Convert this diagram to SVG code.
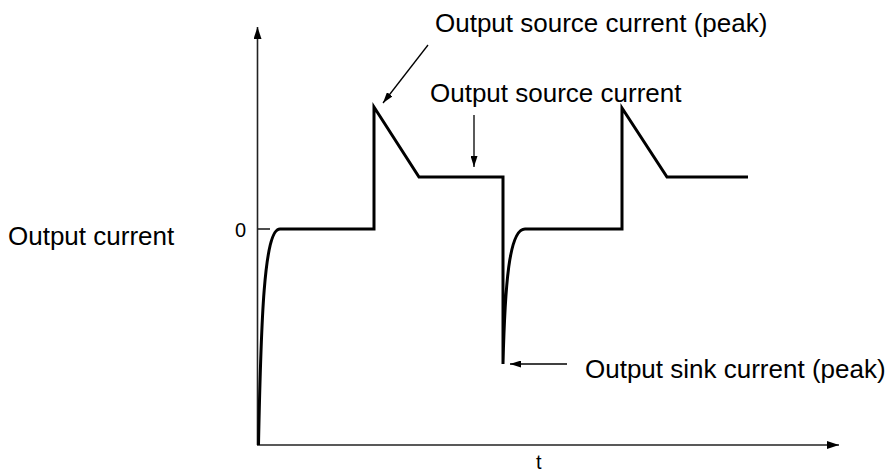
<svg xmlns="http://www.w3.org/2000/svg" width="892" height="472" viewBox="0 0 892 472">
<defs>
<style>
.lbl{font-family:"Liberation Sans",Arial,sans-serif;font-size:26px;fill:#000}
.sm{font-family:"Liberation Sans",Arial,sans-serif;font-size:20px;fill:#000}
.axis{stroke:#222;stroke-width:1.6;fill:none}
.wave{stroke:#000;stroke-width:3;fill:none;stroke-linejoin:miter}
.ptr{stroke:#000;stroke-width:1.3;fill:none}
</style>
<marker id="axhead" markerWidth="12" markerHeight="8" refX="12" refY="4" orient="auto" markerUnits="userSpaceOnUse">
<path d="M0,0 L12,4 L0,8 Z" fill="#000"/>
</marker>
<marker id="phead" markerWidth="11" markerHeight="7" refX="11" refY="3.5" orient="auto" markerUnits="userSpaceOnUse">
<path d="M0,0 L11,3.5 L0,7 Z" fill="#000"/>
</marker>
</defs>
<rect width="892" height="472" fill="#fff"/>
<g id="axes">
<line class="axis" x1="257.5" y1="445" x2="257.5" y2="27" marker-end="url(#axhead)"/>
<line class="axis" x1="257" y1="445" x2="839" y2="445" marker-end="url(#axhead)"/>
<line class="axis" x1="257" y1="229" x2="270" y2="229"/>
<text class="sm" x="235" y="237">0</text>
<text class="sm" x="536" y="469">t</text>
<text class="lbl" x="8" y="245">Output current</text>
</g>
<g id="waveform">
<path class="wave" d="M258.5,445 C261,320 264,229 280,229 L374,229 L374,107 L419,177 L503,177 L503,364 C505,285 509,229 525,229 L622,229 L622,108 L667,177 L748,177"/>
</g>
<g id="label-source-peak">
<text class="lbl" x="435" y="32">Output source current (peak)</text>
</g>
<g id="label-source">
<text class="lbl" x="430" y="102">Output source current</text>
</g>
<g id="label-sink-peak">
<text class="lbl" x="585" y="378">Output sink current (peak)</text>
</g>
<g id="connectors">
<line class="ptr" x1="428" y1="45" x2="383" y2="103" marker-end="url(#phead)"/>
<line class="ptr" x1="474" y1="115" x2="474" y2="167" marker-end="url(#phead)"/>
<line class="ptr" x1="567" y1="364" x2="510" y2="364" marker-end="url(#phead)"/>
</g>
</svg>
